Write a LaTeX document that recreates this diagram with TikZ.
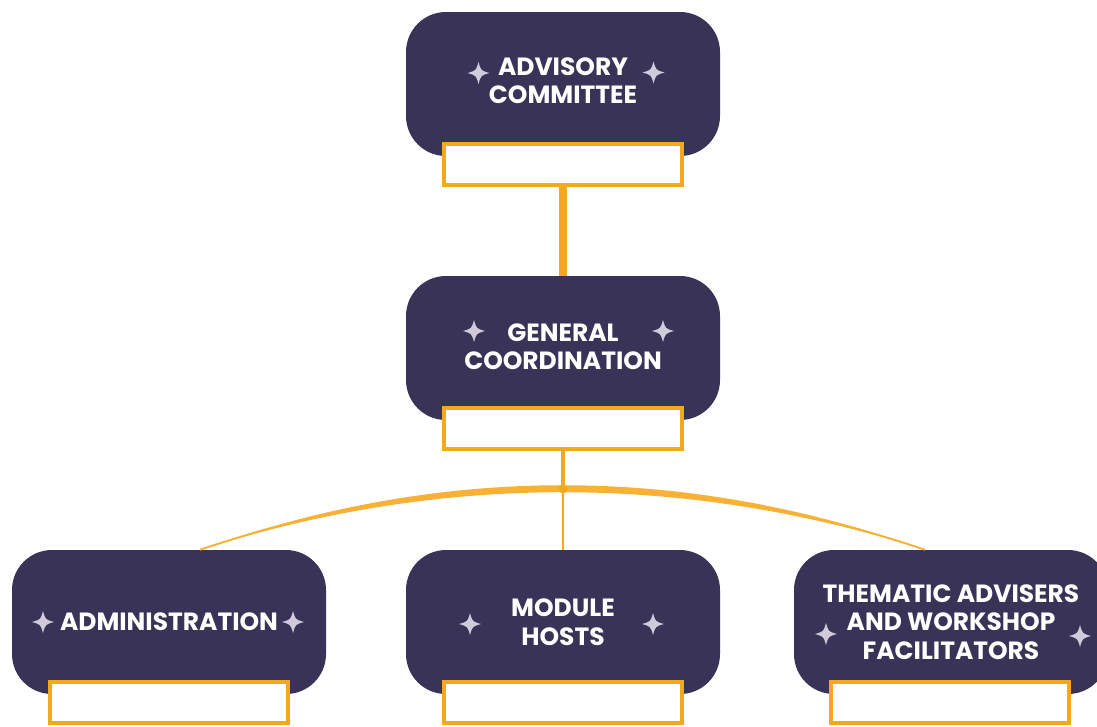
\documentclass[tikz,border=0pt]{standalone}
\usepackage{fontspec}
\setmainfont{Poppins}
\usetikzlibrary{calc}

\definecolor{navy}{HTML}{393457}
\definecolor{amber}{HTML}{F6A81C}
\definecolor{amberlight}{HTML}{F8B134}
\definecolor{starcol}{HTML}{CFCBDA}

\tikzset{
  unit/.style={draw=none, fill=navy, rounded corners=30pt, minimum width=235.5pt,
    minimum height=108pt, align=center, text=white, inner sep=0pt,
    font=\bfseries\fontsize{18.7}{21.5}\selectfont},
  tag/.style={draw=amber, line width=3pt, fill=white, inner sep=0pt,
    minimum width=178.5pt, minimum height=30.75pt},
  link/.style={draw=amber, line cap=butt},
  sparkle/.pic={
    \fill[starcol] (0,-11) .. controls (2.4,-2.4) .. (11,0)
      .. controls (2.4,2.4) .. (0,11) .. controls (-2.4,2.4) .. (-11,0)
      .. controls (-2.4,-2.4) .. (0,-11) -- cycle;
  }
}

\begin{document}
\begin{tikzpicture}[x=0.75pt, y=-0.75pt]
  \useasboundingbox (0,0) rectangle (1097,726);

  % boxes
  \node[unit] (adv) at (563,84) {\raisebox{4.6pt}{\shortstack{ADVISORY\\[4.5pt]COMMITTEE}}};
  \node[tag] (tagadv) at ($(adv)+(0,80.5)$) {};
  \node[unit] (gen) at (563,348) {\raisebox{2pt}{\shortstack{GENERAL\\[4.5pt]COORDINATION}}};
  \node[tag] (taggen) at ($(gen)+(0,80)$) {};
  \node[unit] (adm) at (169,622) {ADMINISTRATION};
  \node[tag] (tagadm) at ($(adm)+(0,80)$) {};
  \node[unit] (mod) at (563,622) {MODULE\\HOSTS};
  \node[tag] (tagmod) at ($(mod)+(0,80)$) {};
  \node[unit] (thm) at (951,622) {THEMATIC ADVISERS\\AND WORKSHOP\\FACILITATORS};
  \node[tag] (tagthm) at ($(thm)+(-1.5,80)$) {};

  % sparkles
  \pic at ($(adv)+(-84.5,-11)$) {sparkle};
  \pic at ($(adv)+(90.5,-11.5)$) {sparkle};
  \pic at ($(gen)+(-89,-17)$) {sparkle};
  \pic at ($(gen)+(100,-17)$) {sparkle};
  \pic at ($(adm)+(-126,0)$) {sparkle};
  \pic at ($(adm)+(124,0)$) {sparkle};
  \pic at ($(mod)+(-93,2)$) {sparkle};
  \pic at ($(mod)+(90,2)$) {sparkle};
  \pic at ($(thm)+(-125,12)$) {sparkle};
  \pic at ($(thm)+(129,14)$) {sparkle};

  % connectors
  \draw[link, line width=5.5pt] (tagadv.south) -- (gen.north);
  \coordinate (hub) at (563,489);
  \coordinate (arcL) at ($(adm.north)+(31,0)$);
  \coordinate (arcR) at ($(thm.north)+(-26,0)$);
  \fill[amberlight] (arcL) .. controls +(241.7,-86) and +(-241.7,-86) .. (arcR)
    .. controls +(-241.7,-76.7) and +(241.7,-76.7) .. (arcL) -- cycle;
  \draw[amberlight, line width=1.4pt] (arcL) .. controls +(241.7,-81.3) and +(-241.7,-81.3) .. (arcR);
  \draw[link, line width=3pt] (taggen.south) -- (hub);
  \draw[link, line width=1.2pt] (hub) -- (mod.north);
  \fill[amber] (hub) circle (4.5);
\end{tikzpicture}
\end{document}
